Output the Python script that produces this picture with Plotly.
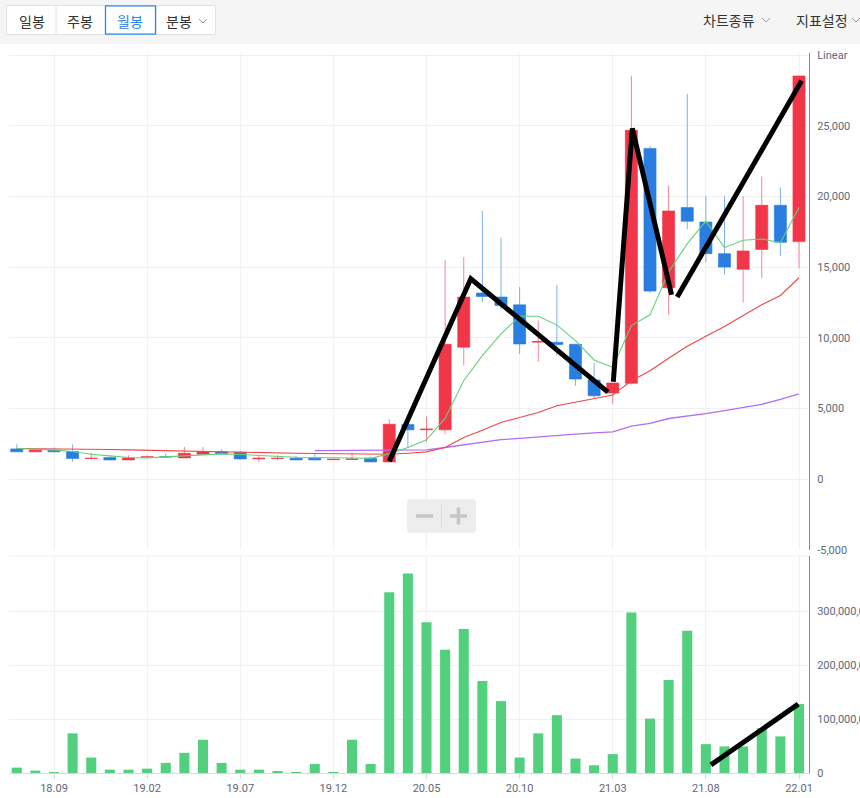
import plotly.graph_objects as go

# ---------------- data ----------------
months = ["18.07", "18.08", "18.09", "18.10", "18.11", "18.12",
          "19.01", "19.02", "19.03", "19.04", "19.05", "19.06",
          "19.07", "19.08", "19.09", "19.10", "19.11", "19.12",
          "20.01", "20.02", "20.03", "20.04", "20.05", "20.06",
          "20.07", "20.08", "20.09", "20.10", "20.11", "20.12",
          "21.01", "21.02", "21.03", "21.04", "21.05", "21.06",
          "21.07", "21.08", "21.09", "21.10", "21.11", "21.12",
          "22.01"]
tick_labels = ["18.09", "19.02", "19.07", "19.12", "20.05", "20.10", "21.03", "21.08", "22.01"]

open_ = [2150, 1940, 2060, 1960, 1470, 1540, 1370, 1560, 1600, 1510, 1770, 1940,
         1920, 1440, 1470, 1490, 1490, 1390, 1400, 1490, 1230, 3880, 3500, 3500,
         9340, 13170, 12890, 12340, 9700, 9690, 9550, 7020, 6100, 6790, 23400, 13550,
         19220, 18200, 15960, 14850, 16260, 19380, 16810]
high = [2480, 2100, 2250, 2480, 1890, 1700, 1700, 1700, 1840, 2290, 2290, 2130,
        1990, 1700, 1700, 1650, 1840, 1440, 1890, 1610, 4250, 3950, 4440, 15490,
        15720, 18980, 17090, 13590, 11230, 13760, 9550, 8230, 6810, 28530, 23570, 20780,
        27260, 20070, 20020, 20020, 21420, 20640, 28530]
low = [1940, 1940, 1900, 1230, 1450, 1370, 1370, 1500, 1510, 1510, 1770, 1800,
       1440, 1230, 1370, 1370, 1370, 1370, 1370, 1230, 1200, 2250, 2650, 3190,
       8040, 12530, 12060, 8870, 8320, 8750, 6620, 5720, 5350, 6700, 13200, 11650,
       17680, 15340, 14470, 12500, 14230, 15790, 14940]
close = [1940, 2080, 1940, 1470, 1490, 1370, 1510, 1590, 1580, 1840, 1940, 1800,
         1440, 1490, 1490, 1370, 1370, 1420, 1440, 1230, 3900, 3500, 3550, 9550,
         12890, 12930, 12290, 9570, 9750, 9530, 7090, 5910, 6810, 24680, 13310, 18980,
         18250, 15960, 15010, 16150, 19380, 16760, 28530]

volume = [10e6, 4.4e6, 1e6, 73.6e6, 28.7e6, 6.2e6, 6.2e6, 8.1e6, 18.7e6, 37.4e6, 61.8e6, 18.7e6,
          6.2e6, 6.2e6, 2.5e6, 0.6e6, 16.8e6, 0.6e6, 61.8e6, 16.8e6, 335.6e6, 370.6e6, 280e6, 229e6,
          267.6e6, 171e6, 133.5e6, 28.7e6, 73.6e6, 107.3e6, 26.8e6, 14.3e6, 35e6, 298e6, 101e6, 172.8e6,
          264e6, 53.6e6, 49.3e6, 49.3e6, 83e6, 68e6, 128e6]

ma_short = [2175, 2128, 2080, 1962, 1773, 1655, 1537, 1513, 1560, 1655, 1726, 1797,
            1750, 1678, 1608, 1560, 1537, 1513, 1489, 1489, 1800, 2246, 2789, 4326,
            6974, 8746, 10283, 11537, 11537, 10922, 9810, 8439, 7920, 10874, 11631, 14658,
            16666, 18249, 16383, 16903, 16997, 16737, 19219]
ma_mid = [2175, 2170, 2160, 2150, 2130, 2110, 2080, 2060, 2030, 2000, 1986, 1960,
          1915, 1890, 1870, 1844, 1820, 1800, 1773, 1750, 1773, 1844, 1938, 2246,
          2955, 3475, 4019, 4374, 4728, 5201, 5437, 5674, 5957, 6974, 7684, 8557,
          9408, 10118, 10803, 11583, 12340, 13002, 14255]
ma_long = [None] * 16 + [2030, 2030, 2030, 2030, 2030, 2050, 2080, 2250, 2450, 2650, 2800,
                         2900, 3000, 3150, 3200, 3280, 3360, 3760, 3950, 4300, 4450, 4650,
                         4850, 5050, 5300, 5650, 6050]

# user-drawn trend lines (x = month index, y = price / volume)
trend_a_x = [20.0, 24.38, 31.74]
trend_a_y = [1280, 14180, 6170]
trend_b_x = [32.03, 33.05, 35.16]
trend_b_y = [6900, 24820, 13050]
trend_c_x = [35.46, 42.14]
trend_c_y = [12890, 28180]
vol_trend_x = [37.27, 41.96]
vol_trend_y = [15e6, 128e6]

price_ticks = [-5000, 0, 5000, 10000, 15000, 20000, 25000, 30000]
price_tick_text = ["-5,000", "0", "5,000", "10,000", "15,000", "20,000", "25,000", "Linear"]
vol_ticks = [0, 100e6, 200e6, 300e6]
vol_tick_text = ["0", "100,000,000", "200,000,000", "300,000,000"]

# ---------------- figure ----------------
W, H = 860, 798
ML, MR, MT, MB = 9, 51, 53, 25
PW, PH = W - ML - MR, H - MT - MB


def px(xp):
    return (xp - ML) / PW


def py(yp):
    return (H - MB - yp) / PH


x = list(range(len(months)))
tickvals = [months.index(t) for t in tick_labels]

RED = "#f2364a"
BLUE = "#2a7de1"

fig = go.Figure()

fig.add_trace(go.Scatter(x=x, y=ma_long, mode="lines", line=dict(color="#b36ef5", width=1.3),
                         xaxis="x", yaxis="y", showlegend=False, hoverinfo="skip"))
fig.add_trace(go.Scatter(x=x, y=ma_mid, mode="lines", line=dict(color="#ec4848", width=1.1),
                         xaxis="x", yaxis="y", showlegend=False, hoverinfo="skip"))
fig.add_trace(go.Candlestick(
    x=x, open=open_, high=high, low=low, close=close,
    increasing=dict(line=dict(color="rgba(242,54,74,0.6)", width=1), fillcolor=RED),
    decreasing=dict(line=dict(color="rgba(42,125,225,0.6)", width=1), fillcolor=BLUE),
    whiskerwidth=0, xaxis="x", yaxis="y", showlegend=False))
fig.add_trace(go.Scatter(x=x, y=ma_short, mode="lines", line=dict(color="#62d27c", width=1.1),
                         xaxis="x", yaxis="y", showlegend=False, hoverinfo="skip"))

fig.add_trace(go.Bar(x=x, y=volume, marker=dict(color="#52d07e", line=dict(width=0)),
                     xaxis="x2", yaxis="y2", showlegend=False))

for tx, ty in [(trend_a_x, trend_a_y), (trend_b_x, trend_b_y), (trend_c_x, trend_c_y)]:
    fig.add_trace(go.Scatter(x=tx, y=ty, mode="lines", line=dict(color="black", width=5),
                             xaxis="x", yaxis="y", showlegend=False, hoverinfo="skip"))
fig.add_trace(go.Scatter(x=vol_trend_x, y=vol_trend_y, mode="lines", line=dict(color="black", width=5),
                         xaxis="x2", yaxis="y2", showlegend=False, hoverinfo="skip"))

xrange = [(ML - 16.75) / 18.625, (ML + PW - 16.75) / 18.625]
GRID = "#f1f1f3"
tickfont = dict(family="Roboto, Arial, sans-serif", size=11, color="#5e6877")

shapes = []
# toolbar
shapes.append(dict(type="rect", xref="paper", yref="paper", x0=px(0), x1=px(W), y0=py(0), y1=py(44),
                   fillcolor="#f5f5f5", line=dict(width=0), layer="below"))
shapes.append(dict(type="rect", xref="paper", yref="paper", x0=px(6.5), x1=px(215.5), y0=py(5.5), y1=py(34.5),
                   fillcolor="white", line=dict(color="#e2e2e2", width=1)))
for sx in [56, 156]:
    shapes.append(dict(type="line", xref="paper", yref="paper", x0=px(sx), x1=px(sx), y0=py(5.5), y1=py(34.5),
                       line=dict(color="#e2e2e2", width=1)))
shapes.append(dict(type="rect", xref="paper", yref="paper", x0=px(105.5), x1=px(155.5), y0=py(5.8), y1=py(34.2),
                   fillcolor="white", line=dict(color="#2d86e8", width=1.3)))


def chevron(cx, cy, col="#9a9a9a"):
    return dict(type="path", xref="paper", yref="paper",
                path="M {} {} L {} {} L {} {}".format(px(cx - 4), py(cy - 2), px(cx), py(cy + 2),
                                                     px(cx + 4), py(cy - 2)),
                line=dict(color=col, width=1))


shapes.append(chevron(203, 21))
shapes.append(chevron(766, 20))
shapes.append(chevron(856, 20))

# pane separator
shapes.append(dict(type="line", xref="paper", yref="paper", x0=0, x1=1, y0=py(556), y1=py(556),
                   line=dict(color="#f0f0f0", width=1)))

# zoom control
zx0, zx1, zy0, zy1, r = 407, 476, 499, 533, 4
zpath = ("M {a} {b} L {c} {b} Q {d} {b} {d} {e} L {d} {f} Q {d} {g} {c} {g} L {a} {g} "
         "Q {h} {g} {h} {f} L {h} {e} Q {h} {b} {a} {b} Z").format(
    a=px(zx0 + r), b=py(zy0), c=px(zx1 - r), d=px(zx1), e=py(zy0 + r), f=py(zy1 - r),
    g=py(zy1), h=px(zx0))
shapes.append(dict(type="path", xref="paper", yref="paper", path=zpath, fillcolor="#ededed",
                   line=dict(width=0), layer="above"))
shapes.append(dict(type="line", xref="paper", yref="paper", x0=px(416), x1=px(433), y0=py(516), y1=py(516),
                   line=dict(color="#c6c6c6", width=3.5), layer="above"))
shapes.append(dict(type="line", xref="paper", yref="paper", x0=px(450), x1=px(467), y0=py(516), y1=py(516),
                   line=dict(color="#c6c6c6", width=3.5), layer="above"))
shapes.append(dict(type="line", xref="paper", yref="paper", x0=px(458.5), x1=px(458.5), y0=py(507.5), y1=py(524.5),
                   line=dict(color="#c6c6c6", width=3.5), layer="above"))
shapes.append(dict(type="line", xref="paper", yref="paper", x0=px(441.5), x1=px(441.5), y0=py(505), y1=py(527),
                   line=dict(color="#dadada", width=1), layer="above"))

kfont = "Noto Sans CJK KR, Noto Sans, sans-serif"
annotations = []
for label, cx, cy, col in [("일봉", 32, 21, "#333333"), ("주봉", 80, 21, "#333333"),
                           ("월봉", 130, 21, "#2d86e8"), ("분봉", 179, 21, "#333333"),
                           ("차트종류", 729, 20, "#333333"), ("지표설정", 822, 20, "#333333")]:
    annotations.append(dict(text=label, xref="paper", yref="paper", x=px(cx), y=py(cy),
                            xanchor="center", yanchor="middle", showarrow=False,
                            font=dict(family=kfont, size=14, color=col)))

fig.update_layout(
    width=W, height=H, autosize=False,
    margin=dict(l=ML, r=MR, t=MT, b=MB, autoexpand=False),
    paper_bgcolor="white", plot_bgcolor="white",
    bargap=0.46, boxgap=0.35, boxgroupgap=0,
    hovermode=False,
    xaxis=dict(domain=[0, 1], anchor="y", range=xrange, tickvals=tickvals, showticklabels=False,
               showgrid=True, gridcolor=GRID, zeroline=False, showline=False, ticks="",
               automargin=False, rangeslider=dict(visible=False)),
    xaxis2=dict(domain=[0, 1], anchor="y2", range=xrange, tickvals=tickvals, ticktext=tick_labels,
                showgrid=True, gridcolor=GRID, zeroline=False, showline=True, linecolor="#d6d9e6",
                ticks="outside", ticklen=5, tickcolor="#d6d9e6", tickfont=tickfont,
                automargin=False, rangeslider=dict(visible=False)),
    yaxis=dict(domain=[py(550), py(53)], anchor="x", side="right", range=[-5000, 30150],
               tickvals=price_ticks, ticktext=price_tick_text, showgrid=True, gridcolor=GRID,
               zeroline=False, showline=True, linecolor="#8a8a8a", ticks="", ticklabelstandoff=5,
               tickfont=tickfont, automargin=False),
    yaxis2=dict(domain=[0, py(556)], anchor="x2", side="right", range=[0, 403e6],
                tickvals=vol_ticks, ticktext=vol_tick_text, showgrid=True, gridcolor=GRID,
                zeroline=False, showline=True, linecolor="#8a8a8a", ticks="", ticklabelstandoff=5,
                tickfont=tickfont, automargin=False),
    shapes=shapes,
    annotations=annotations,
)

page_fix = ("document.body.style.margin='0';document.body.style.padding='0';"
            "document.body.style.overflow='hidden';")

fig.write_html("out.html", config={"responsive": False, "displayModeBar": False},
               post_script=page_fix)
